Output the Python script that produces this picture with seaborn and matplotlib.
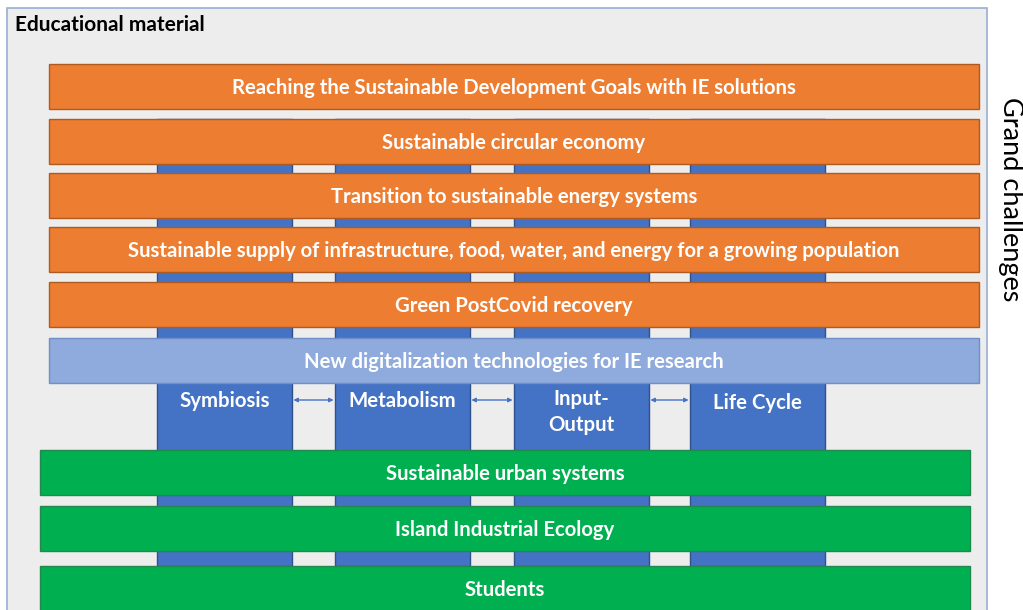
import numpy as np
import pandas as pd
import matplotlib
matplotlib.use("Agg")
import matplotlib.pyplot as plt
import seaborn as sns

# Diagram content
challenges = ["Reaching the Sustainable Development Goals with IE solutions",
              "Sustainable circular economy",
              "Transition to sustainable energy systems",
              "Sustainable supply of infrastructure, food, water, and energy for a growing population",
              "Green PostCovid recovery"]
digital = ["New digitalization technologies for IE research"]
methods = ["Symbiosis", "Metabolism", "Input-\nOutput", "Life Cycle"]
foundations = ["Sustainable urban systems", "Island Industrial Ecology", "Students"]

# Layout (pixel space of a 1023x610 canvas)
W, H = 1023, 610
row_top_upper = [64, 119, 173, 227, 282, 338]
row_top_lower = [450, 506, 566]
row_h = 45
col_left = [157, 335, 514, 690]
col_w = 135
col_top, col_bottom = 119, 566

sns.set_theme(style="white")
plt.rcParams["font.family"] = ["Lato", "DejaVu Sans"]

fig = plt.figure(figsize=(W / 100, H / 100), dpi=100)
ax = fig.add_axes([0, 0, 1, 1])
ax.set_xlim(0, W)
ax.set_ylim(H, 0)
ax.axis("off")

# outer frame
ax.add_patch(plt.Rectangle((7, 8), 980, 620, facecolor="#EDEDED",
                           edgecolor="#9AAED3", linewidth=1.2, zorder=0))
ax.text(15, 25, "Educational material", fontsize=15, fontweight="bold",
        color="black", va="center", ha="left")

# method columns
ax.bar([x + col_w / 2 for x in col_left], col_bottom - col_top, width=col_w,
       bottom=col_top, color="#4472C4", edgecolor="#2F528F", linewidth=1, zorder=1)
label_y = [401, 401, 412, 403]
for x, lab, y in zip(col_left, methods, label_y):
    ax.text(x + col_w / 2, y, lab, color="white", fontsize=14.7, fontweight="bold",
            ha="center", va="center", linespacing=1.32, zorder=3)

# arrows between columns
for i in range(len(col_left) - 1):
    x0 = col_left[i] + col_w
    x1 = col_left[i + 1]
    ax.annotate("", xy=(x1, 400), xytext=(x0, 400),
                arrowprops=dict(arrowstyle="<|-|>", color="#4472C4", lw=1,
                                mutation_scale=6, shrinkA=1, shrinkB=1), zorder=3)

# horizontal bands
upper = challenges + digital
upper_colors = ["#ED7D31"] * len(challenges) + ["#8FAADC"]
upper_edges = ["#AE5A21"] * len(challenges) + ["#6F8FC6"]
ax.barh([t + row_h / 2 for t in row_top_upper], 930, height=row_h, left=49,
        color=upper_colors, edgecolor=upper_edges, linewidth=1, zorder=2)
for t, lab in zip(row_top_upper, upper):
    ax.text(49 + 465, t + row_h / 2 + 1.5, lab, color="white", fontsize=14.6,
            fontweight="bold", ha="center", va="center", zorder=3)

ax.barh([t + row_h / 2 for t in row_top_lower], 930, height=row_h, left=40,
        color="#00B050", edgecolor="#1F8A4C", linewidth=1, zorder=2)
for t, lab in zip(row_top_lower, foundations):
    ax.text(40 + 465, t + row_h / 2 + 1.5, lab, color="white", fontsize=14.6,
            fontweight="bold", ha="center", va="center", zorder=3)

ax.text(1010, 199, "Grand challenges", fontsize=19.5, rotation=-90,
        ha="center", va="center", color="black")

fig.savefig("out.png", dpi=100)
